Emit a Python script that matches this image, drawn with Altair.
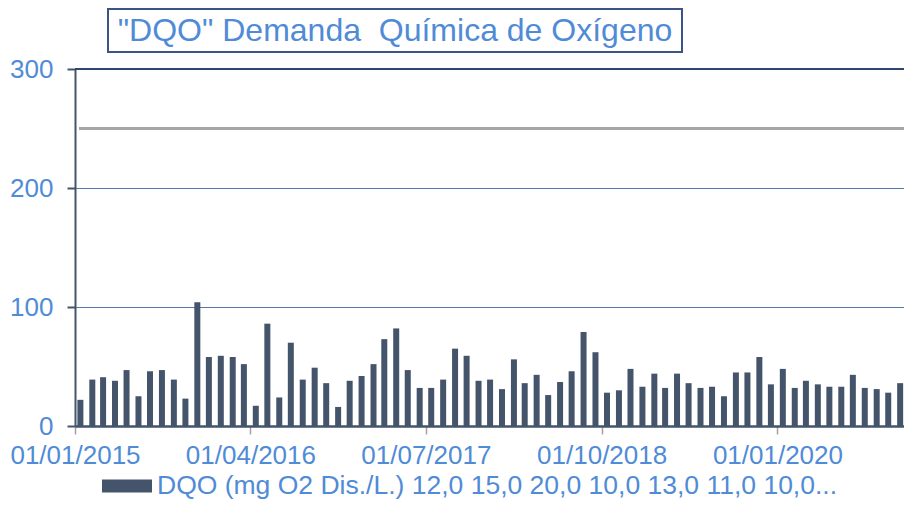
import altair as alt
import pandas as pd

TITLE = "\"DQO\" Demanda\u00a0 Química de Oxígeno"
SERIES = "DQO (mg O2 Dis./L.) 12,0 15,0 20,0 10,0 13,0 11,0 10,0..."

values = [
    22, 39, 41, 38, 47, 25, 46, 47, 39, 23, 104, 58, 59, 58, 52, 17, 86, 24, 70, 39, 49, 36, 16, 38,
    42, 52, 73, 82, 47, 32, 32, 39, 65, 59, 38, 39, 31, 56, 36, 43, 26, 37, 46, 79, 62, 28, 30, 48, 33,
    44, 32, 44, 36, 32, 33, 25, 45, 45, 58, 35, 48, 32, 38, 35, 33, 33, 43, 32, 31, 28, 36,
]
months = [f"{2015 + i // 12}-{i % 12 + 1:02d}-15" for i in range(len(values))]
limit_value = [250]
top_value = [300]
tick_dates = [(2015, 1), (2016, 4), (2017, 7), (2018, 10), (2020, 1)]

BLUE = "#4F8BD6"
BAR = "#44546A"
FONT = "Liberation Sans"
W = 829
H = 357

df = pd.DataFrame({"fecha": months, "dqo": values, "serie": SERIES})
df_limit = pd.DataFrame({"limite": limit_value})
df_top = pd.DataFrame({"tope": top_value})
df_title = pd.DataFrame({"titulo": [TITLE]})

x_scale = alt.Scale(
    type="utc",
    padding=0,
    domain=[alt.DateTime(year=2015, month=1, date=1, utc=True),
            alt.DateTime(year=2020, month=11, date=25, utc=True)],
)
y_scale = alt.Scale(domain=[0, 300])

bars = alt.Chart(df).mark_bar(size=6).encode(
    x=alt.X(
        "fecha:T",
        scale=x_scale,
        axis=alt.Axis(
            title=None,
            values=[alt.DateTime(year=y, month=m, date=1, utc=True) for y, m in tick_dates],
            labelExpr="utcFormat(datum.value, '%d/%m/%Y')",
            labelColor=BLUE,
            labelFont=FONT,
            labelFontSize=26,
            labelPadding=8,
            tickSize=8,
            tickColor="#A0A0A0",
            tickWidth=1.5,
            domainColor=BAR,
            domainWidth=2.5,
            grid=False,
            labelFlush=False,
        ),
    ),
    y=alt.Y(
        "dqo:Q",
        scale=y_scale,
        axis=alt.Axis(
            title=None,
            values=[0, 100, 200, 300],
            labelColor=BLUE,
            labelFont=FONT,
            labelFontSize=26,
            labelPadding=14,
            tickSize=8,
            tickColor=BAR,
            tickWidth=2,
            domainColor=BAR,
            domainWidth=2,
            grid=True,
            gridColor="#5A76A8",
            gridWidth=1,
        ),
    ),
    color=alt.Color(
        "serie:N",
        scale=alt.Scale(range=[BAR]),
        legend=alt.Legend(
            title=None,
            orient="none",
            legendX=27,
            legendY=392,
            symbolType="M-1,-0.26H1V0.26H-1Z",
            symbolSize=2500,
            symbolStrokeWidth=0,
            labelColor=BLUE,
            labelFont=FONT,
            labelFontSize=26.5,
            labelLimit=2000,
            labelOffset=5,
            padding=0,
        ),
    ),
)

top_line = alt.Chart(df_top).mark_rule(color="#2F4675", strokeWidth=2).encode(
    y=alt.Y("tope:Q", scale=y_scale)
)

limit_line = alt.Chart(df_limit).mark_rule(color="#A6A6A6", strokeWidth=3).encode(
    y=alt.Y("limite:Q", scale=y_scale),
    x=alt.value(4),
    x2=alt.value(W),
)

title_box = alt.Chart(df_title).mark_rect(
    fill="white", stroke="#3B5488", strokeWidth=2
).encode(
    x=alt.value(33), x2=alt.value(607), y=alt.value(-60), y2=alt.value(-17)
)

title_text = alt.Chart(df_title).mark_text(
    font=FONT, fontSize=32, color=BLUE, align="center", baseline="alphabetic"
).encode(
    x=alt.value(320), y=alt.value(-28), text="titulo:N"
)

chart = alt.layer(top_line, limit_line, bars, title_box, title_text).properties(
    width=W,
    height=H,
    autosize=alt.AutoSizeParams(type="none"),
    padding={"left": 67, "top": 61, "right": 0, "bottom": 75},
).configure_view(strokeWidth=0)

chart.save("out.html", embed_options={"renderer": "svg", "actions": False})
